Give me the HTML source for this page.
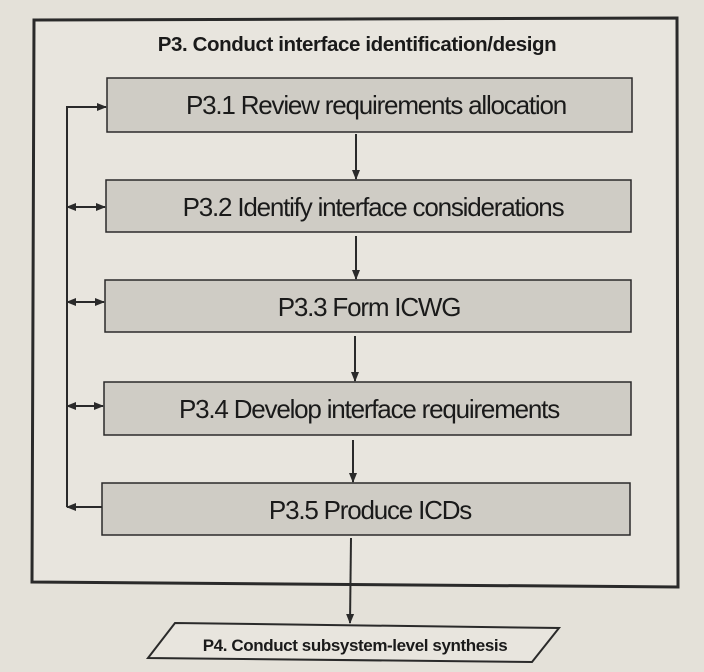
<!DOCTYPE html>
<html><head><style>
html,body{margin:0;padding:0;background:#e4e1d9;}
svg{display:block;}
text{font-family:"Liberation Sans",Arial,sans-serif;fill:#1a1a1a;}
</style></head><body>
<svg width="704" height="672" viewBox="0 0 704 672">
<defs>
<marker id="a" markerWidth="10" markerHeight="10" refX="9" refY="5" orient="auto-start-reverse" markerUnits="userSpaceOnUse">
<path d="M0,1 L10,5 L0,9 Z" fill="#2a2a2a"/></marker>
</defs>
<rect x="0" y="0" width="704" height="672" fill="#e4e1d9"/>
<polygon points="34,20 677,18 678,587 32,582" fill="#e8e5de" stroke="#2a2a2a" stroke-width="3"/>
<text x="357" y="51" text-anchor="middle" font-size="20.5" font-weight="bold" letter-spacing="-0.4">P3.  Conduct interface identification/design</text>
<g fill="#cfccc5" stroke="#2a2a2a" stroke-width="1.5">
<rect x="107" y="78" width="525" height="54"/>
<rect x="106" y="180" width="525" height="52"/>
<rect x="105" y="280" width="526" height="52"/>
<rect x="104" y="382" width="527" height="53"/>
<rect x="102" y="483" width="528" height="52"/>
</g>
<g font-size="26" text-anchor="middle" letter-spacing="-1.2">
<text x="376" y="114">P3.1 Review requirements allocation</text>
<text x="373" y="216">P3.2 Identify interface considerations</text>
<text x="369" y="316">P3.3 Form ICWG</text>
<text x="369" y="418">P3.4 Develop interface requirements</text>
<text x="370" y="519">P3.5 Produce ICDs</text>
</g>
<g stroke="#2a2a2a" stroke-width="2" fill="none">
<path d="M67,507 L67,107 L106,107" marker-end="url(#a)"/>
<line x1="102" y1="507" x2="67" y2="507" marker-end="url(#a)"/>
<line x1="67" y1="207" x2="105" y2="207" marker-end="url(#a)" marker-start="url(#a)"/>
<line x1="67" y1="302" x2="104" y2="302" marker-end="url(#a)" marker-start="url(#a)"/>
<line x1="67" y1="406" x2="103" y2="406" marker-end="url(#a)" marker-start="url(#a)"/>
<line x1="356" y1="134" x2="356" y2="179" marker-end="url(#a)"/>
<line x1="356" y1="236" x2="356" y2="279" marker-end="url(#a)"/>
<line x1="355" y1="336" x2="355" y2="381" marker-end="url(#a)"/>
<line x1="353" y1="440" x2="353" y2="482" marker-end="url(#a)"/>
<line x1="351" y1="538" x2="350" y2="623" marker-end="url(#a)"/>
</g>
<polygon points="148,658 175,623 559,628 532,662" fill="#e8e5de" stroke="#2a2a2a" stroke-width="2"/>
<text x="355" y="651" text-anchor="middle" font-size="17" font-weight="bold" letter-spacing="-0.4">P4. Conduct subsystem-level  synthesis</text>
</svg>
</body></html>
